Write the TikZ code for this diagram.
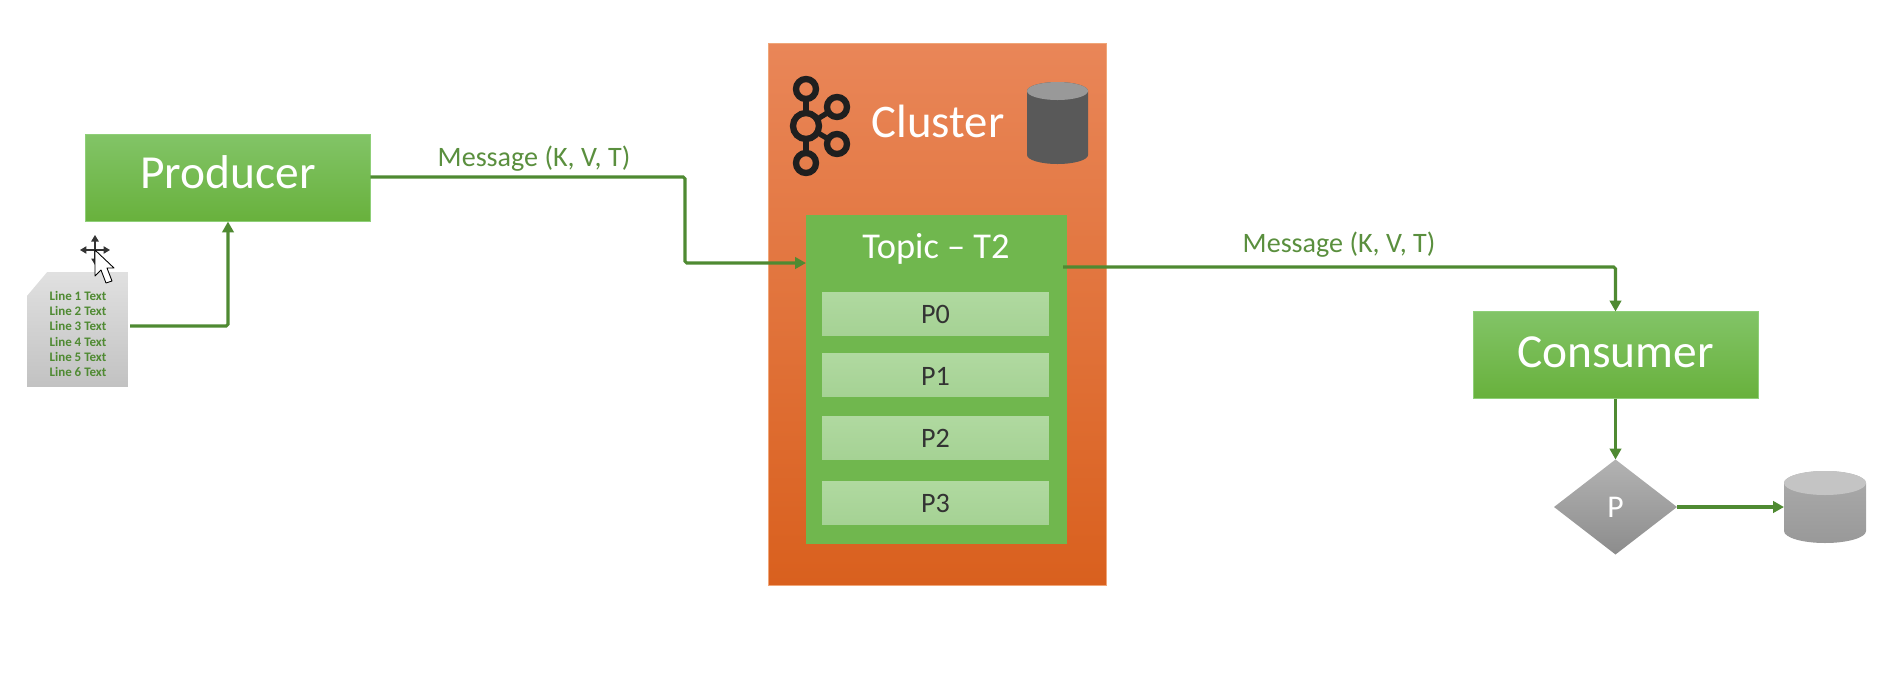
\documentclass[tikz,border=0pt]{standalone}
\usepackage{fontspec}
\setmainfont{Carlito}
\usetikzlibrary{arrows.meta,shapes.geometric}
\definecolor{linegreen}{HTML}{4F8A32}
\definecolor{labelgreen}{HTML}{5A8F3E}
\definecolor{boxtop}{HTML}{82C467}
\definecolor{boxbot}{HTML}{68B13C}
\definecolor{boxedge}{HTML}{8FCF78}
\definecolor{topicgreen}{HTML}{70B74E}
\definecolor{parttop}{HTML}{B0D9A0}
\definecolor{partbot}{HTML}{A5D294}
\definecolor{clustertop}{HTML}{E98658}
\definecolor{clustermid}{HTML}{EC7433}
\definecolor{clusterbot}{HTML}{D9601E}
\definecolor{clusteredge}{HTML}{F0A678}
\tikzset{
  >={Triangle[length=2.2mm,width=2.3mm]},
  flow/.style={draw=linegreen,line width=1.8pt},
  greenbox/.style={draw=boxedge,line width=0.5pt,top color=boxtop,bottom color=boxbot,
    text=white,font=\fontsize{27}{30}\selectfont,inner sep=0pt,outer sep=0pt,
    minimum width=5.7cm,minimum height=1.74cm},
  partbox/.style={top color=parttop,bottom color=partbot,text=black!80,font=\fontsize{16}{18}\selectfont,
    inner sep=0pt,outer sep=0pt,minimum width=4.54cm,minimum height=0.86cm,text height=0.4cm,text depth=0pt},
  msglabel/.style={text=labelgreen,font=\fontsize{16}{18}\selectfont,inner sep=0pt},
  kafkaring/.style={circle,draw=black!88,line width=3.6pt,inner sep=0pt,outer sep=0pt,minimum size=0.4cm},
  kafkaline/.style={draw=black!88,line width=3pt},
}
\begin{document}
\begin{tikzpicture}[x=0.02cm,y=-0.02cm]
\useasboundingbox (0,0) rectangle (1901,684);
% left side
\node[greenbox,text depth=0.24cm] (producer) at (228,178){Producer};
\node[top color=black!12,bottom color=black!24,inner sep=0pt,outer sep=0pt,
  minimum width=2.02cm,minimum height=2.3cm,
  path picture={\fill[white] (-52,-59)--(-30.5,-59)--(-30.5,-57.5)--(-52,-32)--cycle;}] (doc) at (77.5,329.5){};
\node[align=center,text=linegreen,font=\fontsize{7.4}{8.75}\bfseries\selectfont,inner sep=0pt] (doclines) at (78,334)
  {Line 1 Text\\Line 2 Text\\Line 3 Text\\Line 4 Text\\Line 5 Text\\Line 6 Text};
\coordinate (docout) at (130,326);
\draw[flow,->,rounded corners=1pt] (docout)-|(producer.south);
% mouse cursor
\draw[line width=0.6pt,black!80,{Triangle[length=1.3mm,width=1.5mm]}-{Triangle[length=1.3mm,width=1.5mm]}] (80,250)--(110,250);
\draw[line width=0.6pt,black!80,{Triangle[length=1.3mm,width=1.5mm]}-{Triangle[length=1.3mm,width=1.5mm]}] (95,235)--(95,265);
\draw[fill=white,line width=0.5pt,line join=round] (95,250)--(95,276)--(101,270)--(106,283)--(112,281)--(107,268)--(114,268)--cycle;
% cluster
\node[draw=clusteredge,line width=0.4pt,top color=clustertop,middle color=clustermid,bottom color=clusterbot,inner sep=0pt,outer sep=0pt,
  minimum width=6.76cm,minimum height=10.84cm] (cluster) at (937,314){};
\node[text=white,font=\fontsize{26.6}{30}\selectfont,inner sep=0pt] (clusterlabel) at (938,121){Cluster};
\node[kafkaring,minimum size=0.52cm] (kcore) at (806,126){};
\node[kafkaring] (ktop) at (806,89){};
\node[kafkaring] (kbot) at (806,163){};
\node[kafkaring] (kup) at (837,107){};
\node[kafkaring] (kdown) at (837,144){};
\draw[kafkaline] (kcore)--(ktop);
\draw[kafkaline] (kcore)--(kbot);
\draw[kafkaline] (kcore)--(kup);
\draw[kafkaline] (kcore)--(kdown);
\node[inner sep=0pt,outer sep=0pt,minimum width=1.22cm,minimum height=1.64cm] (clusterdb) at (1057.5,123){};
\fill[black!65] (1027,91)--(1027,155) arc[start angle=180,end angle=0,x radius=30.5,y radius=9]
  --(1088,91) arc[start angle=0,end angle=-180,x radius=30.5,y radius=9]--cycle;
\fill[black!40] (1057.5,91) ellipse [x radius=30.5,y radius=9];
% topic
\node[fill=topicgreen,inner sep=0pt,outer sep=0pt,minimum width=5.22cm,minimum height=6.58cm] (topic) at (936.5,379.5){};
\node[text=white,font=\fontsize{20.7}{24}\selectfont,inner sep=0pt] (topiclabel) at (936,249){Topic -- T2};
\node[partbox] (p0) at (935.5,313.5){P0};
\node[partbox] (p1) at (935.5,375){P1};
\node[partbox] (p2) at (935.5,437.5){P2};
\node[partbox] (p3) at (935.5,502.5){P3};
% right side
\node[greenbox,text depth=0.12cm] (consumer) at (1615.5,355){Consumer};
\node[diamond,aspect=1.3,top color=black!30,bottom color=black!45,text=white,font=\fontsize{18}{20}\selectfont,inner sep=0pt,outer sep=0pt,
  minimum width=2.46cm,minimum height=1.9cm] (part) at (1615.5,507){P};
\node[inner sep=0pt,outer sep=0pt,minimum width=1.64cm,minimum height=1.44cm] (store) at (1825,507){};
\shade[top color=black!33,bottom color=black!40] (1784,483)--(1784,531) arc[start angle=180,end angle=0,x radius=41,y radius=12]
  --(1866,483) arc[start angle=0,end angle=-180,x radius=41,y radius=12]--cycle;
\fill[black!23] (1825,483) ellipse [x radius=41,y radius=12];
% connectors
\coordinate (topicin) at (806,263);
\coordinate (topicout) at (1063,267);
\coordinate (bendin) at (685,177);
\draw[flow,->,rounded corners=1pt] (producer.east|-bendin)--(bendin)|-(topicin);
\draw[flow,->,rounded corners=1pt] (topicout)-|(consumer.north);
\node[msglabel] (msgin) at (534,159){Message (K, V, T)};
\node[msglabel] (msgout) at (1339,245){Message (K, V, T)};
\draw[flow,->] (consumer.south)--(part.north);
\draw[flow,->] (part.east)--(store.west);
\end{tikzpicture}
\end{document}
